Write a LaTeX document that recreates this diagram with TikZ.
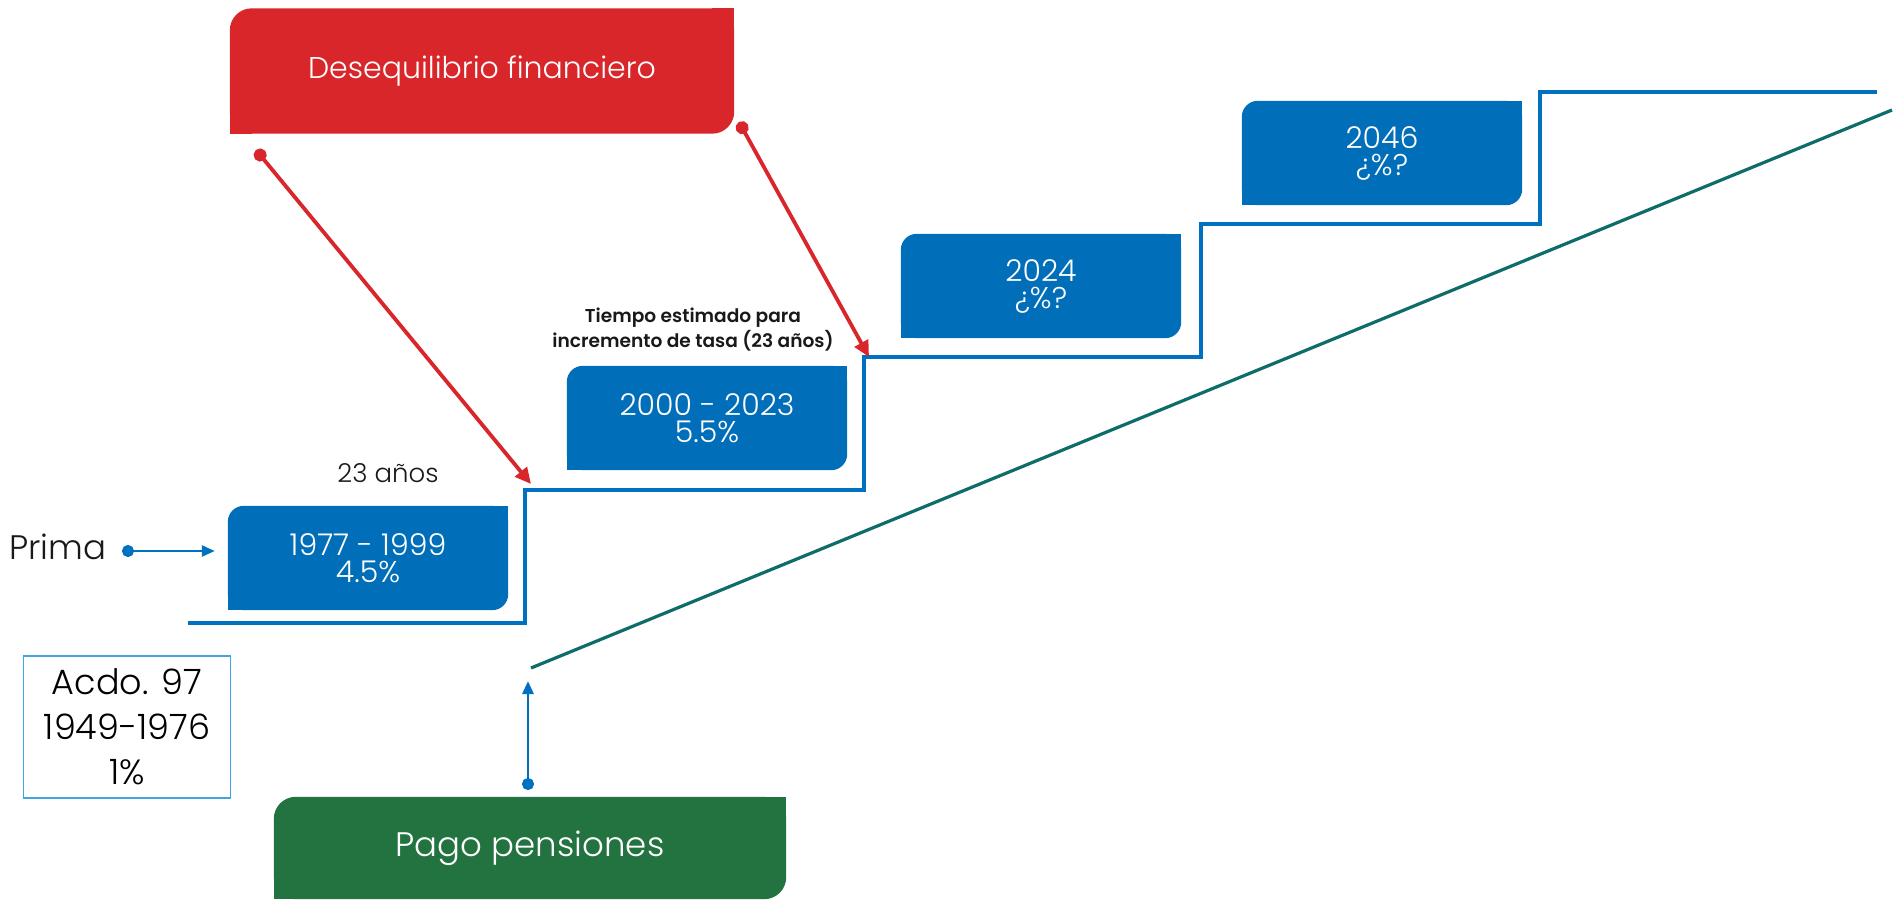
\documentclass[tikz,border=0pt]{standalone}
\usepackage{fontspec}
\setmainfont{Poppins}[UprightFont=* Light, BoldFont=* SemiBold]
\usetikzlibrary{arrows.meta, positioning, backgrounds}
\definecolor{desRed}{HTML}{D8262A}
\definecolor{stepBlue}{HTML}{006EB8}
\definecolor{stairBlue}{HTML}{0070C0}
\definecolor{pagoGreen}{HTML}{22733F}
\definecolor{slopeTeal}{HTML}{0E6D69}
\definecolor{acdoBlue}{HTML}{41A6E0}
\tikzset{
  stepbox/.style={inner sep=0pt, align=center, text=white,
                  minimum width=280pt, minimum height=104pt,
                  font=\fontsize{30}{27}\selectfont},
  bigbox/.style={inner sep=0pt, align=center, text=white,
                 font=\fontsize{30}{36}\selectfont},
  acdobox/.style={draw=acdoBlue, line width=1.2pt, inner sep=0pt,
                  align=center, minimum width=207pt, minimum height=142pt,
                  font=\fontsize{35}{45}\selectfont},
  txt/.style={inner sep=0pt, align=center, text=black!90},
  stair/.style={draw=stairBlue, line width=3.4pt},
  slope/.style={draw=slopeTeal, line width=3.2pt},
  redArrow/.style={draw=desRed, line width=3.8pt,
                   {Circle[length=13pt]}-{Triangle[length=16pt, width=15pt]}},
  blueArrow/.style={draw=stairBlue, line width=2.8pt,
                    {Circle[length=12pt]}-{Triangle[length=13pt, width=11pt]}},
}
\begin{document}
\begin{tikzpicture}[x=1pt, y=-1pt]
    \useasboundingbox (0,0) rectangle (1902,901);
    %% boxes
    \node[bigbox, minimum width=504pt, minimum height=125pt] (des) at (482,71)
      {Desequilibrio financiero};
    \node[stepbox] (s1) at (368,558) {1977 - 1999\\4.5\%};
    \node[stepbox] (s2) at (707,418) {2000 - 2023\\5.5\%};
    \node[stepbox] (s3) at (1041,286) {2024\\¿\%?};
    \node[stepbox] (s4) at (1382,153) {2046\\¿\%?};
    \node[bigbox, minimum width=512pt, minimum height=102pt,
          font=\fontsize{34}{40}\selectfont] (pago) at (530,848)
      {Pago pensiones};
    \node[acdobox] (acdo) at (127,727) {Acdo. 97\\1949-1976\\1\%};
    %% labels
    \node[txt, font=\fontsize{34}{40}\selectfont, anchor=west] (prima) at (9,547) {Prima};
    \node[txt, font=\fontsize{26}{28}\selectfont] (anios) at (388,473) {23 años};
    \node[txt, font=\bfseries\fontsize{18.6}{25}\selectfont] (tiempo) at (693,330)
      {Tiempo estimado para\\incremento de tasa (23 años)};
    %% box fills, two corners rounded
    \begin{scope}[on background layer]
      \foreach \n/\c/\r in {des/desRed/22, s1/stepBlue/16, s2/stepBlue/16,
                            s3/stepBlue/16, s4/stepBlue/16, pago/pagoGreen/22}{
        \fill[\c, rounded corners=\r pt] (\n.south west) rectangle (\n.north east);
        \fill[\c] (\n.north east) rectangle ++(-\r pt,-\r pt);
        \fill[\c] (\n.south west) rectangle ++(\r pt,\r pt);
      }
    \end{scope}
    %% staircase
    \coordinate (k1) at (531,484);
    \coordinate (k2) at (869,357);
    \draw[stair] (188,623) -- (525,623) -- (525,490) -- (864,490) -- (864,357)
      -- (1201,357) -- (1201,224) -- (1540,224) -- (1540,92) -- (1877,92);
    %% slope
    \coordinate (g0) at (531,668);
    \coordinate (g1) at (1892,110);
    \draw[slope] (g0) -- (g1);
    %% red arrows
    \coordinate (r1) at (256,150);
    \coordinate (r2) at (739,122);
    \draw[redArrow] (r1) -- (k1);
    \draw[redArrow] (r2) -- (k2);
    %% blue arrows
    \coordinate (p0) at (528,790);
    \coordinate (p1) at (528,681);
    \draw[blueArrow] (p0) -- (p1);
    \coordinate (q0) at (122,551);
    \draw[blueArrow, line width=2.4pt] (q0) -- ([xshift=-13pt]q0 -| s1.west);
\end{tikzpicture}
\end{document}
